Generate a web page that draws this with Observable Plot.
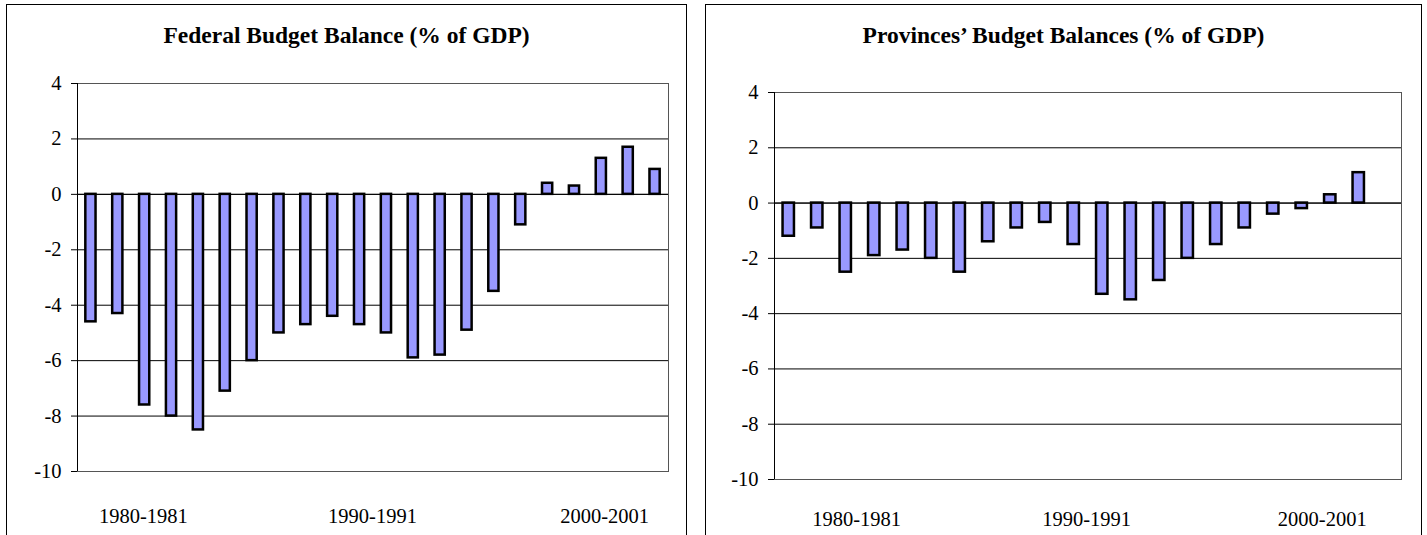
<!DOCTYPE html>
<html>
<head>
<meta charset="utf-8">
<script src="https://cdn.jsdelivr.net/npm/d3@7"></script>
<script src="https://cdn.jsdelivr.net/npm/@observablehq/plot@0.6"></script>
<style>
  html, body { margin: 0; padding: 0; overflow: hidden; background: #fff; width: 1427px; height: 535px; }
  .box { position: absolute; top: 4px; height: 560px; border: 1px solid #000; box-sizing: border-box; }
  .title { position: absolute; top: 24px; text-align: center; font-family: 'Liberation Serif', 'Times New Roman', serif; font-weight: bold; font-size: 23.5px; line-height: 23px; color: #000; white-space: nowrap; }
  .plot { position: absolute; top: 60px; }
  .plot svg { display: block; }
</style>
</head>
<body>
<div class="box" style="left:6px; width:681px;"></div>
<div class="box" style="left:705px; width:717px;"></div>
<div class="title" style="left:6px; width:681px;">Federal Budget Balance (% of GDP)</div>
<div class="title" style="left:705px; width:717px;">Provinces’ Budget Balances (% of GDP)</div>
<div class="plot" id="federal" style="left:6px;"></div>
<div class="plot" id="provinces" style="left:705px;"></div>
<script>
// Data
const federal = [-4.6, -4.3, -7.6, -8.0, -8.5, -7.1, -6.0, -5.0, -4.7, -4.4, -4.7, -5.0, -5.9, -5.8, -4.9, -3.5, -1.1, 0.4, 0.3, 1.3, 1.7, 0.9];
const provinces = [-1.2, -0.9, -2.5, -1.9, -1.7, -2.0, -2.5, -1.4, -0.9, -0.7, -1.5, -3.3, -3.5, -2.8, -2.0, -1.5, -0.9, -0.4, -0.2, 0.3, 1.1];
const categoryCount = 22;
const xLabels = ["1980-1981", "1990-1991", "2000-2001"];
const federalLabelAt = [2.45, 10.98, 19.62];
const provincesLabelAt = [2.88, 10.95, 19.22];
const yTicks = [-10, -8, -6, -4, -2, 0, 2, 4];

function panel(values, labelAt, opts) {
  const data = values.map((v, i) => ({i, v}));
  const labelMap = new Map(labelAt.map((p, i) => [p, xLabels[i]]));
  const half = opts.barFrac / 2;
  return Plot.plot({
    width: opts.width,
    height: 480,
    marginLeft: opts.marginLeft,
    marginRight: opts.marginRight,
    marginTop: opts.marginTop,
    marginBottom: opts.marginBottom,
    style: {fontFamily: "'Liberation Serif', 'Times New Roman', serif", fontSize: "20.5px", color: "#000", background: "transparent", overflow: "visible"},
    x: {type: "linear", domain: [0, categoryCount], axis: null, label: null},
    y: {domain: [-10, 4], axis: null, label: null},
    marks: [
      Plot.gridY(yTicks, {stroke: "#000", strokeOpacity: 1, strokeWidth: 1}),
      Plot.frame({stroke: "#555"}),
      Plot.rectY(data, {
        x1: d => d.i + 0.5 - half,
        x2: d => d.i + 0.5 + half,
        y1: 0,
        y2: "v",
        fill: "#9999FF",
        stroke: "#000",
        strokeWidth: 2.5
      }),
      Plot.ruleY([0], {stroke: "#000"}),
      Plot.ruleX([0], {stroke: "#000"}),
      Plot.axisY(yTicks, {tickSize: 6, tickPadding: 10, tickFormat: d => String(d), fontSize: 20.5, stroke: "#000", label: null}),
      Plot.axisX(labelAt, {tickSize: 0, tickPadding: opts.labelPad, tickFormat: d => labelMap.get(d), fontSize: 20.5, label: null})
    ]
  });
}

document.getElementById("federal").append(panel(federal, federalLabelAt, {
  width: 681, marginLeft: 71, marginRight: 19, marginTop: 23, marginBottom: 69, barFrac: 0.38, labelPad: 37
}));
document.getElementById("provinces").append(panel(provinces, provincesLabelAt, {
  width: 717, marginLeft: 69, marginRight: 21, marginTop: 32, marginBottom: 61, barFrac: 0.4, labelPad: 32
}));
</script>
</body>
</html>
